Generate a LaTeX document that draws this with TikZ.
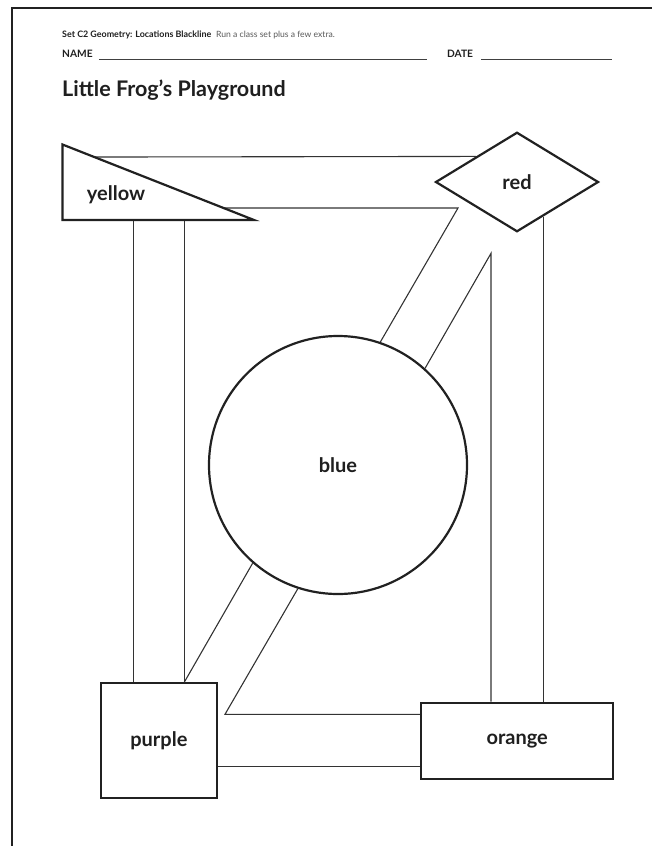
\documentclass[tikz,border=0pt]{standalone}
\usepackage{fontspec}
\setmainfont{Lato}
\usetikzlibrary{shapes.geometric,calc,positioning}

\begin{document}
\begin{tikzpicture}[x=1pt, y=-1pt,
  every node/.style={font=\bfseries\fontsize{20}{22}\selectfont, text=black!88},
  spot/.style={draw=black!87, line width=2.2pt, fill=white, inner sep=0pt},
  walk/.style={draw=black!80, line width=1.1pt},
  head/.style={anchor=base west, inner sep=0pt},
  rule/.style={draw=black!75, line width=1.2pt}]
  \useasboundingbox (0,0) rectangle (652,846);
  \draw[line width=2pt, black!87] (11.5,846) -- (11.5,7.5) -- (652,7.5);

  \node[head, font=\bfseries\fontsize{8.9}{10}\selectfont] (setinfo) at (62,37.5) {Set C2 Geometry: Locations Blackline};
  \node[head, font=\fontsize{8.6}{10}\selectfont, text=black!65] (runinfo) at (216,37.5) {Run a class set plus a few extra.};
  \node[head, font=\bfseries\fontsize{10.2}{12}\selectfont] (name) at (62,57) {NAME};
  \node[head, font=\bfseries\fontsize{10.2}{12}\selectfont] (date) at (447,57) {DATE};
  \coordinate (nameend) at (427,59.5);
  \coordinate (dateend) at (612,59.5);
  \draw[rule] (name.base east) ++(6,2.5) -- (nameend);
  \draw[rule] (date.base east) ++(8,2.5) -- (dateend);
  \node[head, font=\bfseries\fontsize{21.5}{26}\selectfont] (title) at (62,96) {Little Frog’s Playground};

  \coordinate (ytop) at (62.5,144.5);
  \coordinate (yleft) at (62.5,220);
  \coordinate (yright) at (254,220);
  \node[diamond, spot, minimum width=163pt, minimum height=99.5pt] (red) at (517,182) {red};
  \node[circle, spot, minimum size=258pt] (blue) at (338,465) {blue};
  \node[rectangle, spot, minimum width=115.7pt, minimum height=114.4pt] (purple) at (158.9,740.5) {purple};
  \node[rectangle, spot, minimum width=192.3pt, minimum height=76.6pt] (orange) at (517.2,741) {orange};

  \coordinate (yr1) at ($(ytop)!0.166!(yright)$);
  \coordinate (yr2) at ($(red.west)!0.503!(red.north)$);
  \draw[walk] (yr1) -- (yr2);
  \coordinate (yb1) at ($(ytop)!0.841!(yright)$);
  \coordinate (yb2) at (458,208);
  \draw[walk] (yb1) -- (yb2) -- (blue.71);
  \coordinate (rb) at (491,253.3);
  \draw[walk] (blue.48.5) -- (rb) -- (rb |- orange.north);
  \coordinate (ro) at ($(red.east)!0.68!(red.south)$);
  \draw[walk] (ro) -- (ro |- orange.north);
  \coordinate (yp1) at (133.3,220);
  \coordinate (yp2) at (184.3,220);
  \draw[walk] (yp1) -- (yp1 |- purple.north);
  \draw[walk] (yp2) -- (yp2 |- purple.north);
  \draw[walk] (blue.229) -- (yp2 |- purple.north);
  \coordinate (bo) at (225,714.3);
  \draw[walk] (blue.252) -- (bo) -- (bo -| orange.west);
  \draw[walk] (purple.east |- 0,766.2) -- (orange.west |- 0,766.2);

  \draw[spot, fill=white] (ytop) -- (yleft) -- (yright) -- cycle;
  \node (yellow) at (116,195) {yellow};
\end{tikzpicture}
\end{document}
